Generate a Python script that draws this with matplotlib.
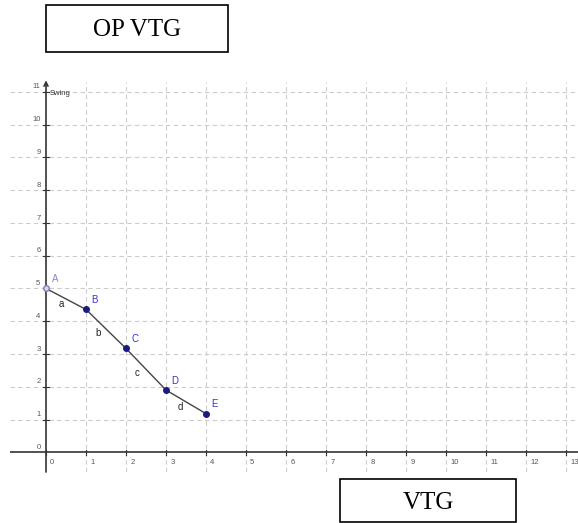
import matplotlib
matplotlib.use("Agg")
import matplotlib.pyplot as plt

# points
point_names = ["A", "B", "C", "D", "E"]
x_vals = [0, 1, 2, 3, 4]
y_vals = [5.0, 4.36, 3.17, 1.9, 1.18]

# segment names and where they sit
seg_names = ["a", "b", "c", "d"]
seg_x = [0.38, 1.29, 2.28, 3.35]
seg_y = [4.53, 3.65, 2.42, 1.39]

x_ticks = list(range(0, 14))
y_ticks = list(range(0, 12))

fig = plt.figure(figsize=(5.78, 5.23), dpi=100)
W, H = 578, 523
# axes placed in pixel terms
ax = fig.add_axes([10 / W, 1 - 472 / H, 568 / W, 390 / H])
ax.set_xlim(-0.9, 13.3)
ax.set_ylim(-0.6, 11.3)
for s in ax.spines.values():
    s.set_visible(False)
ax.set_xticks([])
ax.set_yticks([])

# dashed grid
for xv in x_ticks[1:]:
    ax.axvline(xv, color="#cccccc", lw=0.8, ls=(0, (4, 3)), zorder=0)
for yv in y_ticks[1:]:
    ax.axhline(yv, color="#cccccc", lw=0.8, ls=(0, (4, 3)), zorder=0)

# axes lines
ax.axhline(0, color="#333333", lw=1.2, zorder=1)
ax.annotate("", xy=(0, 11.35), xytext=(0, -0.6),
            arrowprops=dict(arrowstyle="->", color="#333333", lw=1.2,
                            mutation_scale=7, shrinkA=0, shrinkB=0),
            annotation_clip=False, zorder=1)

# tick marks and labels
tick_font = dict(fontsize=5.5, color="#555555", family="Liberation Sans")
for xv in x_ticks:
    ax.plot([xv, xv], [-0.07, 0.07], color="#333333", lw=0.8, zorder=1)
    ax.annotate(str(xv), (xv, 0), xytext=(3, -5), textcoords="offset points",
                ha="left", va="top", **tick_font)
for yv in y_ticks:
    if yv > 0:
        ax.plot([-0.08, 0.08], [yv, yv], color="#333333", lw=0.8, zorder=1)
    ax.annotate(str(yv), (0, yv), xytext=(-4, 1), textcoords="offset points",
                ha="right", va="bottom", **tick_font)
ax.annotate("Swing", (0, 11), xytext=(3, -1), textcoords="offset points",
            ha="left", va="center", fontsize=5.5, color="#333333",
            family="Liberation Sans")

# polyline
ax.plot(x_vals, y_vals, color="#444444", lw=1.0, zorder=2)
ax.plot(x_vals[1:], y_vals[1:], "o", color="#1a1a80", ms=4, zorder=3)
ax.plot(x_vals[:1], y_vals[:1], "o", mfc="#d8d8ec", mec="#8080b8", ms=4,
        mew=1, zorder=3)

for i, name in enumerate(point_names):
    col = "#8888c8" if i == 0 else "#3535c8"
    ax.annotate(name, (x_vals[i], y_vals[i]), xytext=(4, 3),
                textcoords="offset points", ha="left", va="bottom",
                fontsize=7, color=col, family="Liberation Sans")

for name, sx, sy in zip(seg_names, seg_x, seg_y):
    ax.text(sx, sy, name, fontsize=7, color="#222222", ha="center",
            va="center", family="Liberation Sans")

# title boxes
fig.text(137 / W, 1 - 30 / H, "OP VTG", ha="center", va="center",
         fontsize=18, family="Liberation Serif")
fig.patches.append(plt.Rectangle((46 / W, 1 - 52 / H), 182 / W, 47 / H,
                                 transform=fig.transFigure, fill=False,
                                 ec="black", lw=1.2))
fig.text(428 / W, 1 - 503 / H, "VTG", ha="center", va="center",
         fontsize=18, family="Liberation Serif")
fig.patches.append(plt.Rectangle((340 / W, 1 - 522 / H), 176 / W, 43 / H,
                                 transform=fig.transFigure, fill=False,
                                 ec="black", lw=1.2))

fig.savefig("out.png", dpi=100)
